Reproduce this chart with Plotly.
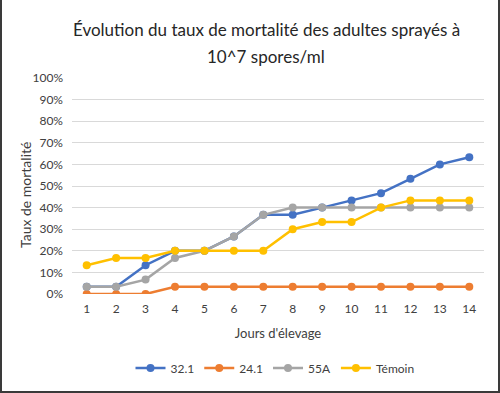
import plotly.graph_objects as go

days = list(range(1, 15))
s321 = [3.33, 3.33, 13.33, 20, 20, 26.67, 36.67, 36.67, 40, 43.33, 46.67, 53.33, 60, 63.33]
s241 = [0, 0, 0, 3.33, 3.33, 3.33, 3.33, 3.33, 3.33, 3.33, 3.33, 3.33, 3.33, 3.33]
s55a = [3.33, 3.33, 6.67, 16.67, 20, 26.67, 36.67, 40, 40, 40, 40, 40, 40, 40]
temoin = [13.33, 16.67, 16.67, 20, 20, 20, 20, 30, 33.33, 33.33, 40, 43.33, 43.33, 43.33]
names = ["32.1", "24.1", "55A", "Témoin"]
colors = ["#4472C4", "#ED7D31", "#A5A5A5", "#FFC000"]
yticks = [0, 10, 20, 30, 40, 50, 60, 70, 80, 90, 100]
title_lines = ["Évolution du taux de mortalité des adultes sprayés à", "10^7 spores/ml"]

fig = go.Figure()
for name, vals, col in zip(names, [s321, s241, s55a, temoin], colors):
    fig.add_trace(go.Scatter(
        x=days, y=[v / 100 for v in vals], name=name, mode="lines+markers",
        line=dict(color=col, width=2.5), marker=dict(color=col, size=8)))

font = "Lato, 'Liberation Sans', sans-serif"
W, H = 500, 393
l, r, t, b = 72, 16, 78, 99
pw, ph = W - l - r, H - t - b
fig.update_layout(
    width=W, height=H,
    margin=dict(l=l, r=r, t=t, b=b),
    paper_bgcolor="white", plot_bgcolor="white",
    font=dict(family=font, color="#404040", size=12),
    xaxis=dict(range=[0.5, 14.5], tickmode="array", tickvals=days,
               ticktext=[str(d) for d in days], showgrid=False, zeroline=False,
               showline=False, ticks="", ticklabelstandoff=6,
               title=dict(text="Jours d'élevage", font=dict(size=13, color="#404040"), standoff=13),
               tickfont=dict(size=12, color="#404040")),
    yaxis=dict(range=[0, 1], tickmode="array", tickvals=[v / 100 for v in yticks],
               ticktext=[f"{v}%" for v in yticks], showgrid=True, gridcolor="#D9D9D9",
               gridwidth=1, zeroline=False, showline=False, ticks="", ticklabelstandoff=8,
               tickfont=dict(size=12, color="#404040")),
    legend=dict(orientation="h", x=275 / W, xanchor="center", xref="container",
                y=1 - 368 / H, yanchor="middle", yref="container",
                font=dict(size=12, color="#404040"), itemwidth=30),
    showlegend=True,
)
# title lines
for txt, ypx in zip(title_lines, [30, 57]):
    fig.add_annotation(text=txt, xref="paper", yref="paper",
                       x=(266 - l) / pw, y=(H - b - ypx) / ph,
                       xanchor="center", yanchor="middle", showarrow=False,
                       font=dict(size=17, color="#262626", family=font))
# y axis title
fig.add_annotation(text="Taux de mortalité", xref="paper", yref="paper",
                   x=(25 - l) / pw, y=(H - b - 195) / ph, textangle=-90,
                   xanchor="center", yanchor="middle", showarrow=False,
                   font=dict(size=14, color="#404040", family=font))
fig.add_shape(type="rect", xref="paper", yref="paper",
              x0=-(l - 1) / pw, x1=(W - l - 1) / pw,
              y0=-(b - 1) / ph, y1=(H - t - 1.5) / ph,
              line=dict(color="#3a3a3a", width=2), layer="below")
fig.write_html("out.html", post_script="document.body.style.margin='0';",
               config={"displayModeBar": False})
